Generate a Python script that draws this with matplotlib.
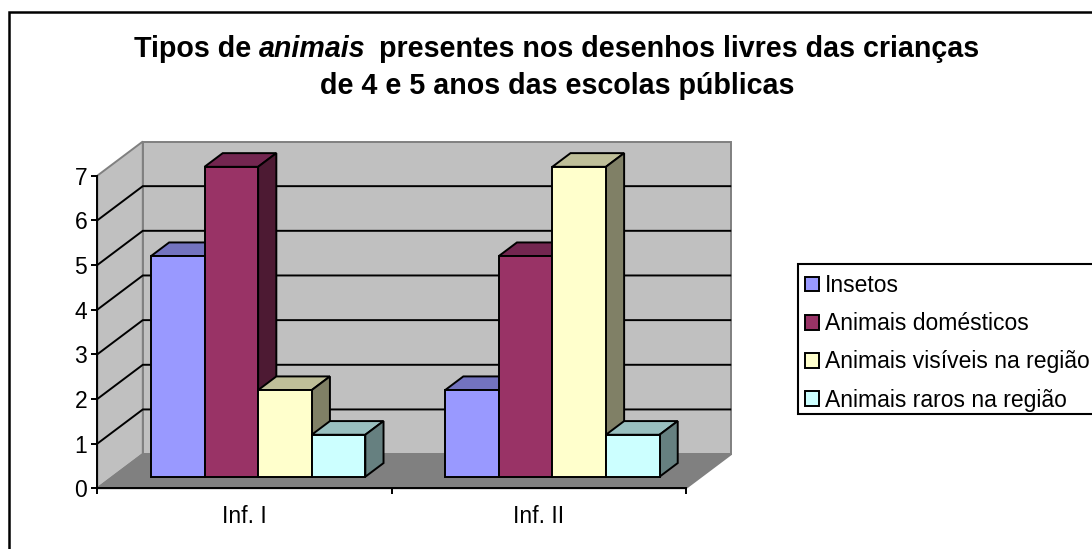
import matplotlib
matplotlib.use("Agg")
import matplotlib.pyplot as plt
from matplotlib.patches import Rectangle

categories = ["Inf. I", "Inf. II"]
series_names = ["Insetos", "Animais domésticos", "Animais visíveis na região", "Animais raros na região"]
insetos = [5, 2]
domesticos = [7, 5]
visiveis = [2, 7]
raros = [1, 1]
y_ticks = [0, 1, 2, 3, 4, 5, 6, 7]

front_colors = ["#9999FF", "#993366", "#FFFFCC", "#CCFFFF"]
top_colors = ["#7373BF", "#732650", "#BFBF99", "#99BFBF"]
side_colors = ["#4D4D80", "#4D1A33", "#808066", "#668080"]

W, H = 1092, 549
plt.rcParams["font.family"] = ["Liberation Sans", "DejaVu Sans"]
fig = plt.figure(figsize=(W / 100, H / 100), dpi=100, facecolor="white")

def fx(p): return p / W
def fy(p): return 1 - p / H

L, R, Y0, Y7 = 97.3, 685.7, 488.3, 175.7
ax = fig.add_axes([fx(L), fy(Y0), fx(R - L), (Y0 - Y7) / H])
ax.set_xlim(0, 2)
ax.set_ylim(0, 7)
ax.patch.set_alpha(0)

DX = 45.5 / 294.2      # depth shear, category units
DY = 34.2 / 44.66      # depth shear, value units
LW = 1.4
WALL = "#C0C0C0"
FLOOR = "#808080"
FS = 16.5

# walls and floor
ax.fill([0, DX, DX, 0], [0, DY, 7 + DY, 7], fc=WALL, ec="#808080", lw=LW, zorder=1, clip_on=False)
ax.fill([DX, 2 + DX, 2 + DX, DX], [DY, DY, 7 + DY, 7 + DY], fc=WALL, ec="#808080", lw=LW, zorder=1, clip_on=False)
ax.fill([0, 2, 2 + DX, DX], [0, 0, DY, DY], fc=FLOOR, ec="#808080", lw=LW, zorder=1, clip_on=False)

# gridlines (none at the top of the wall)
for v in y_ticks[1:-1]:
    ax.plot([0, DX, 2 + DX], [v, v + DY, v + DY], color="black", lw=LW, zorder=2,
            clip_on=False, solid_joinstyle="miter", solid_capstyle="butt")

# bars
series = [insetos, domesticos, visiveis, raros]
GAP = 0.130
BW = 53.6 / 294.2
D0 = 0.338
D1 = 0.738
SINK = 0.06
z = 3
handles = []
for c in range(len(categories)):
    for s, vals in enumerate(series):
        v = vals[c] - SINK
        x0 = c + GAP + s * BW + D0 * DX
        b = D0 * DY
        d = (D1 - D0)
        ddx, ddy = d * DX, d * DY
        ax.fill([x0, x0 + ddx, x0 + BW + ddx, x0 + BW], [b + v, b + v + ddy, b + v + ddy, b + v],
                fc=top_colors[s], ec="black", lw=LW, zorder=z, clip_on=False, joinstyle="miter")
        ax.fill([x0 + BW, x0 + BW + ddx, x0 + BW + ddx, x0 + BW], [b, b + ddy, b + v + ddy, b + v],
                fc=side_colors[s], ec="black", lw=LW, zorder=z, clip_on=False, joinstyle="miter")
        bars = ax.bar(x0, v, BW, bottom=b, align="edge", color=front_colors[s], edgecolor="black",
                      linewidth=LW, zorder=z, clip_on=False, label=series_names[s])
        if c == 0:
            handles.append(bars[0])
        z += 1

# axes
for sp in ("top", "right"):
    ax.spines[sp].set_visible(False)
for sp in ("left", "bottom"):
    ax.spines[sp].set_linewidth(LW)
    ax.spines[sp].set_zorder(2.5)
ax.set_yticks(y_ticks)
ax.tick_params(axis="y", length=4.3, width=LW, pad=3, labelsize=FS)
ax.set_xticks([0, 1, 2])
ax.set_xticklabels([])
ax.set_xticks([0.5, 1.5], minor=True)
ax.set_xticklabels(categories, minor=True)
ax.tick_params(axis="x", which="major", length=4.3, width=LW)
ax.tick_params(axis="x", which="minor", length=0, pad=12, labelsize=FS)

# outer frame (runs past the right and bottom of the image)
fig.add_artist(Rectangle((fx(9.2), fy(600)), fx(1300), (600 - 12) / H, fill=False, ec="black", lw=1.8,
                         transform=fig.transFigure, zorder=0))

# legend: frame drawn separately so it runs past the right edge
fig.add_artist(Rectangle((fx(797.5), fy(414)), fx(400), (414 - 264) / H, fc="white", ec="black", lw=1.5,
                         transform=fig.transFigure, zorder=1))
leg = fig.legend(handles, series_names, loc="upper left", bbox_to_anchor=(fx(805), fy(274)),
                 bbox_transform=fig.transFigure, fontsize=FS, frameon=False, borderaxespad=0,
                 borderpad=0, handlelength=0.62, handleheight=0.62, handletextpad=0.26,
                 labelspacing=0.665)
leg.set_zorder(2)

# title with an italic word
TS = 20.6
renderer = fig.canvas.get_renderer()
parts = [("Tipos de ", "normal", 0), ("animais", "italic", 13), ("presentes nos desenhos livres das crianças", "normal", 0)]
texts = []
for t, st, _ in parts:
    texts.append(fig.text(0, fy(56.7), t, fontsize=TS, fontweight="bold", fontstyle=st, va="baseline", ha="left"))
def width(tx):
    s = tx.get_text()
    tx.set_text("." + s + ".")
    w1 = tx.get_window_extent(renderer).width
    tx.set_text("..")
    w0 = tx.get_window_extent(renderer).width
    tx.set_text(s)
    return w1 - w0
x = 134.0
for t, (_, _, gap) in zip(texts, parts):
    w = width(t)
    t.set_x(fx(x))
    x += w + gap
fig.text(fx(557), fy(94.3), "de 4 e 5 anos das escolas públicas", fontsize=TS, fontweight="bold",
         ha="center", va="baseline")

fig.savefig("out.png", dpi=100)
